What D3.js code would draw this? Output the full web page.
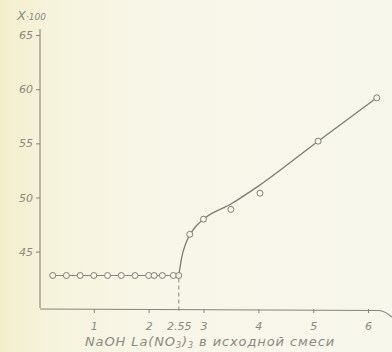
<!DOCTYPE html>
<html>
<head>
<meta charset="utf-8">
<script src="https://cdn.jsdelivr.net/npm/d3@7"></script>
<style>
  html, body { margin: 0; padding: 0; background: #f7f5e6; }
  svg { display: block; }
  text { font-family: "DejaVu Sans", sans-serif; font-style: italic; fill: #8a8a82; }
</style>
</head>
<body>
<svg id="chart" width="392" height="352"></svg>
<script>
// ---- data ----
const flatX = [0.25, 0.5, 0.75, 1.0, 1.25, 1.5, 1.75, 2.0, 2.1, 2.25, 2.45, 2.55];
const flatY = [42.8, 42.8, 42.8, 42.8, 42.8, 42.8, 42.8, 42.8, 42.8, 42.8, 42.8, 42.8];
const riseX = [2.75, 3.0, 3.5, 4.03, 5.09, 6.16];
const riseY = [46.6, 48.0, 48.9, 50.4, 55.2, 59.2];
const curveX = [2.55, 2.6, 2.68, 2.8, 3.0, 3.5, 4.0, 5.09, 6.16];
const curveY = [42.8, 44.4, 45.8, 46.95, 48.0, 49.4, 51.05, 55.2, 59.2];
const xTicks = [1, 2, 2.55, 3, 4, 5, 6];
const xTickLabels = ["1", "2", "2.55", "3", "4", "5", "6"];
const yTicks = [45, 50, 55, 60, 65];
const breakX = 2.55;

// ---- layout ----
const svg = d3.select("#chart");
const W = 392, H = 352;
const x = d3.scaleLinear().domain([0, 6]).range([39, 368]);
const y = d3.scaleLinear().domain([39.8, 65]).range([308, 35]);
const ink = "#85857c";

// paper background
const defs = svg.append("defs");
const g0 = defs.append("linearGradient").attr("id", "paper").attr("x1", "0").attr("x2", "1").attr("y1", "0").attr("y2", "0");
g0.append("stop").attr("offset", "0%").attr("stop-color", "#f2eecb");
g0.append("stop").attr("offset", "12%").attr("stop-color", "#f6f3dc");
g0.append("stop").attr("offset", "40%").attr("stop-color", "#f8f6e8");
g0.append("stop").attr("offset", "100%").attr("stop-color", "#f8f7ec");
svg.append("rect").attr("width", W).attr("height", H).attr("fill", "url(#paper)");

// y axis
const yAxis = d3.axisLeft(y).tickValues(yTicks).tickSize(4).tickPadding(3).tickFormat(d3.format("d"));
const gy = svg.append("g").attr("transform", `translate(${x(0) + 1},0)`).call(yAxis);
gy.select(".domain").remove();
gy.selectAll(".tick line").attr("stroke", ink).attr("stroke-width", 1);
gy.selectAll(".tick text").attr("fill", "#8e8e86").style("font-size", "11px").style("font-family", "DejaVu Sans").style("font-style", "italic");
svg.append("line").attr("x1", x(0) + 1).attr("x2", x(0) + 1).attr("y1", 29).attr("y2", y(39.8))
  .attr("stroke", ink).attr("stroke-width", 1.1);

// x axis
const xAxis = d3.axisBottom(x).tickValues(xTicks).tickSize(4).tickPadding(9)
  .tickFormat((d, i) => xTickLabels[i]);
const gx = svg.append("g").attr("transform", `translate(0,${y(39.8) + 1})`).call(xAxis);
gx.select(".domain").remove();
gx.selectAll(".tick line").attr("stroke", ink);
gx.selectAll(".tick").filter(d => d === breakX).select("line").remove();
gx.selectAll(".tick text").attr("fill", "#8e8e86").style("font-size", "11px").style("font-family", "DejaVu Sans").style("font-style", "italic");
const axY = y(39.8) + 1;
svg.append("path")
  .attr("d", `M${x(0) + 1},${axY} L${x(6.2)},${axY + 1.5} Q${x(6.3)},${axY + 2} ${W},${axY + 8}`)
  .attr("fill", "none").attr("stroke", ink).attr("stroke-width", 1.1);

// dashed break line
svg.append("line").attr("x1", x(breakX)).attr("x2", x(breakX))
  .attr("y1", y(flatY[flatY.length - 1]) + 3).attr("y2", axY + 3)
  .attr("stroke", ink).attr("stroke-width", 1).attr("stroke-dasharray", "4,3");

// flat line
const flat = flatX.map((d, i) => [d, flatY[i]]);
svg.append("path").datum(flat)
  .attr("d", d3.line().x(d => x(d[0])).y(d => y(d[1])))
  .attr("fill", "none").attr("stroke", ink).attr("stroke-width", 1.1);

// rising curve
const curve = curveX.map((d, i) => [d, curveY[i]]);
svg.append("path").datum(curve)
  .attr("d", d3.line().curve(d3.curveMonotoneX).x(d => x(d[0])).y(d => y(d[1])))
  .attr("fill", "none").attr("stroke", "#7c7c72").attr("stroke-width", 1.3);

// markers
const pts = flat.concat(riseX.map((d, i) => [d, riseY[i]]));
svg.append("g").selectAll("circle").data(pts).join("circle")
  .attr("cx", d => x(d[0])).attr("cy", d => y(d[1])).attr("r", 3)
  .attr("fill", "#f8f7ec").attr("stroke", "#7e7e75").attr("stroke-width", 1);

// y label
const yl = svg.append("text").attr("x", 17).attr("y", 20).style("font-size", "13px");
yl.append("tspan").text("X");
yl.append("tspan").style("font-size", "9px").text("·100");

// x label
const xl = svg.append("text").attr("x", 210).attr("y", 346).attr("text-anchor", "middle")
  .style("font-size", "13px").style("letter-spacing", "0.9px").attr("fill", "#84847c");
xl.append("tspan").text("NaOH La(NO");
xl.append("tspan").attr("dy", 2).style("font-size", "8px").text("3");
xl.append("tspan").attr("dy", -2).text(")");
xl.append("tspan").attr("dy", 2).style("font-size", "8px").text("3");
xl.append("tspan").attr("dy", -2).text(" в исходной смеси");
</script>
</body>
</html>
